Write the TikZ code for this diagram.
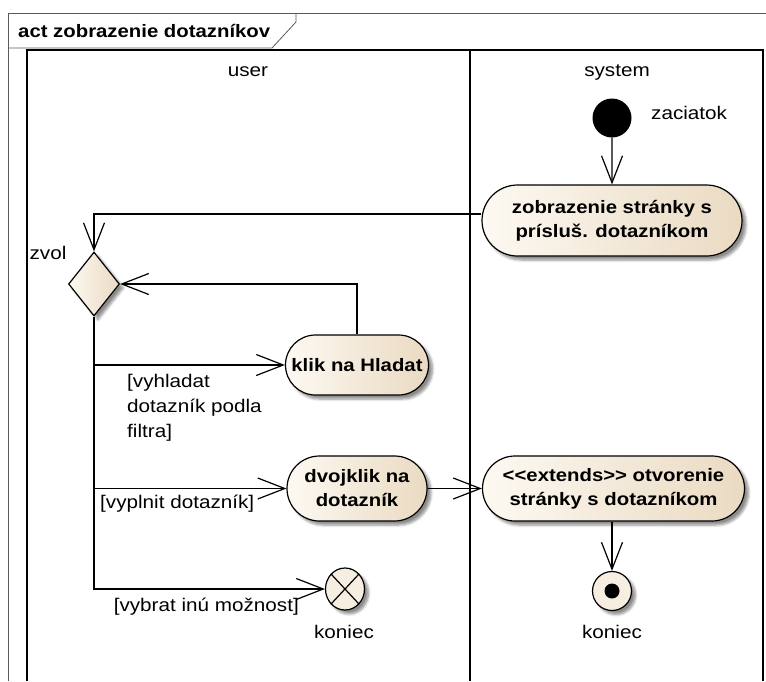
\documentclass[tikz,border=0pt]{standalone}
\usepackage{fontspec}
\setmainfont{Liberation Sans}[FakeStretch=1.13]
\usetikzlibrary{arrows.meta,shadows,shadows.blur,shapes.geometric,shapes.misc}

\definecolor{actL}{RGB}{253,249,242}
\definecolor{actR}{RGB}{234,218,194}
\definecolor{endFill}{RGB}{246,238,224}
\definecolor{frameGray}{RGB}{90,90,90}

\begin{document}
\begin{tikzpicture}[x=1pt,y=-1pt,
  txt/.style={font=\fontsize{18.3}{25}\selectfont, inner sep=0pt},
  shadowed/.style={blur shadow={shadow xshift=4pt,shadow yshift=-4pt,shadow blur radius=2.5pt,shadow blur steps=6,shadow opacity=45}},
  action/.style={rounded rectangle, draw, line width=1.2pt, left color=actL, right color=actR,
    shadowed, font=\bfseries\fontsize{18}{24}\selectfont, align=center, inner sep=0pt},
  flow/.style={line width=1.2pt, -{Straight Barb[length=27pt,width=21pt]}},
]
\useasboundingbox (0,0) rectangle (766,681);

% diagram frame and its name tab
\draw[line width=0.8pt, frameGray] (8,681) -- (8,13) -- (766,13);
\draw[line width=0.8pt, frameGray] (8,48) -- (272,48) -- (296,22) -- (296,13);
\node[font=\bfseries\fontsize{18}{22}\selectfont, inner sep=0pt, anchor=west] (title) at (18,31) {act zobrazenie dotazníkov};

% swimlanes
\draw[line width=1.2pt] (27,681) -- (27,50) -- (763,50) -- (763,681);
\draw[line width=1.2pt] (470,50) -- (470,681);
\node[txt] (laneUser) at (248,72) {user};
\node[txt] (laneSystem) at (617,72) {system};

% nodes
\node[circle, fill=black, minimum size=39pt, inner sep=0pt] (init) at (612,118) {};
\node[txt, anchor=west] (initLbl) at (651,113) {zaciatok};

\node[action, minimum width=260pt, minimum height=71pt] (show) at (612,220.5)
  {zobrazenie stránky s\\prísluš. dotazníkom};

\node[diamond, draw, line width=1.2pt, left color=actL, right color=actR, shadowed,
  minimum width=51pt, minimum height=64pt, inner sep=0pt] (dec) at (94,284) {};
\node[txt] (decLbl) at (48,253) {zvol};

\node[action, minimum width=143pt, minimum height=60pt] (klik) at (357,365) {klik na Hladat};
\node[action, minimum width=140pt, minimum height=65pt] (dvoj) at (357,488.5) {dvojklik na\\dotazník};
\node[action, minimum width=262pt, minimum height=65pt] (ext) at (613.5,488.5)
  {<{}<extends>{}> otvorenie\\stránky s dotazníkom};

\node[circle, draw, line width=1.2pt, fill=endFill, shadowed, minimum size=39pt, inner sep=0pt] (fin) at (612,591) {};
\fill (fin.center) circle (7.5pt);
\node[txt] (finLbl) at (612,632) {koniec};

\node[ellipse, draw, line width=1.2pt, fill=endFill, shadowed, minimum width=39pt, minimum height=42pt, inner sep=0pt] (ff) at (345,589) {};
\draw[line width=1.2pt] (ff.north east) -- (ff.south west);
\draw[line width=1.2pt] (ff.north west) -- (ff.south east);
\node[txt] (ffLbl) at (344,632) {koniec};

% guard labels
\node[txt, anchor=west, align=left] (g1) at (127,408) {[vyhladat\\dotazník podla\\filtra]};
\node[txt, anchor=west] (g2) at (100,504) {[vyplnit dotazník]};
\node[txt, anchor=east] (g3) at (299,607) {[vybrat inú možnost]};

% control flows
\draw[flow] (init) -- (show);
\draw[flow] ([yshift=6.5pt]show.west) -| (dec.north);
\draw[flow] (klik.north) |- (dec.east);
\draw[flow] (dec.south) |- (ff.west);
\draw[flow] (dec.south |- klik.west) -- (klik.west);
\draw[flow] (dec.south |- dvoj.west) -- (dvoj.west);
\draw[flow] (dvoj.east) -- (ext.west);
\draw[flow] (ext.south -| fin.north) -- (fin.north);
\end{tikzpicture}
\end{document}
